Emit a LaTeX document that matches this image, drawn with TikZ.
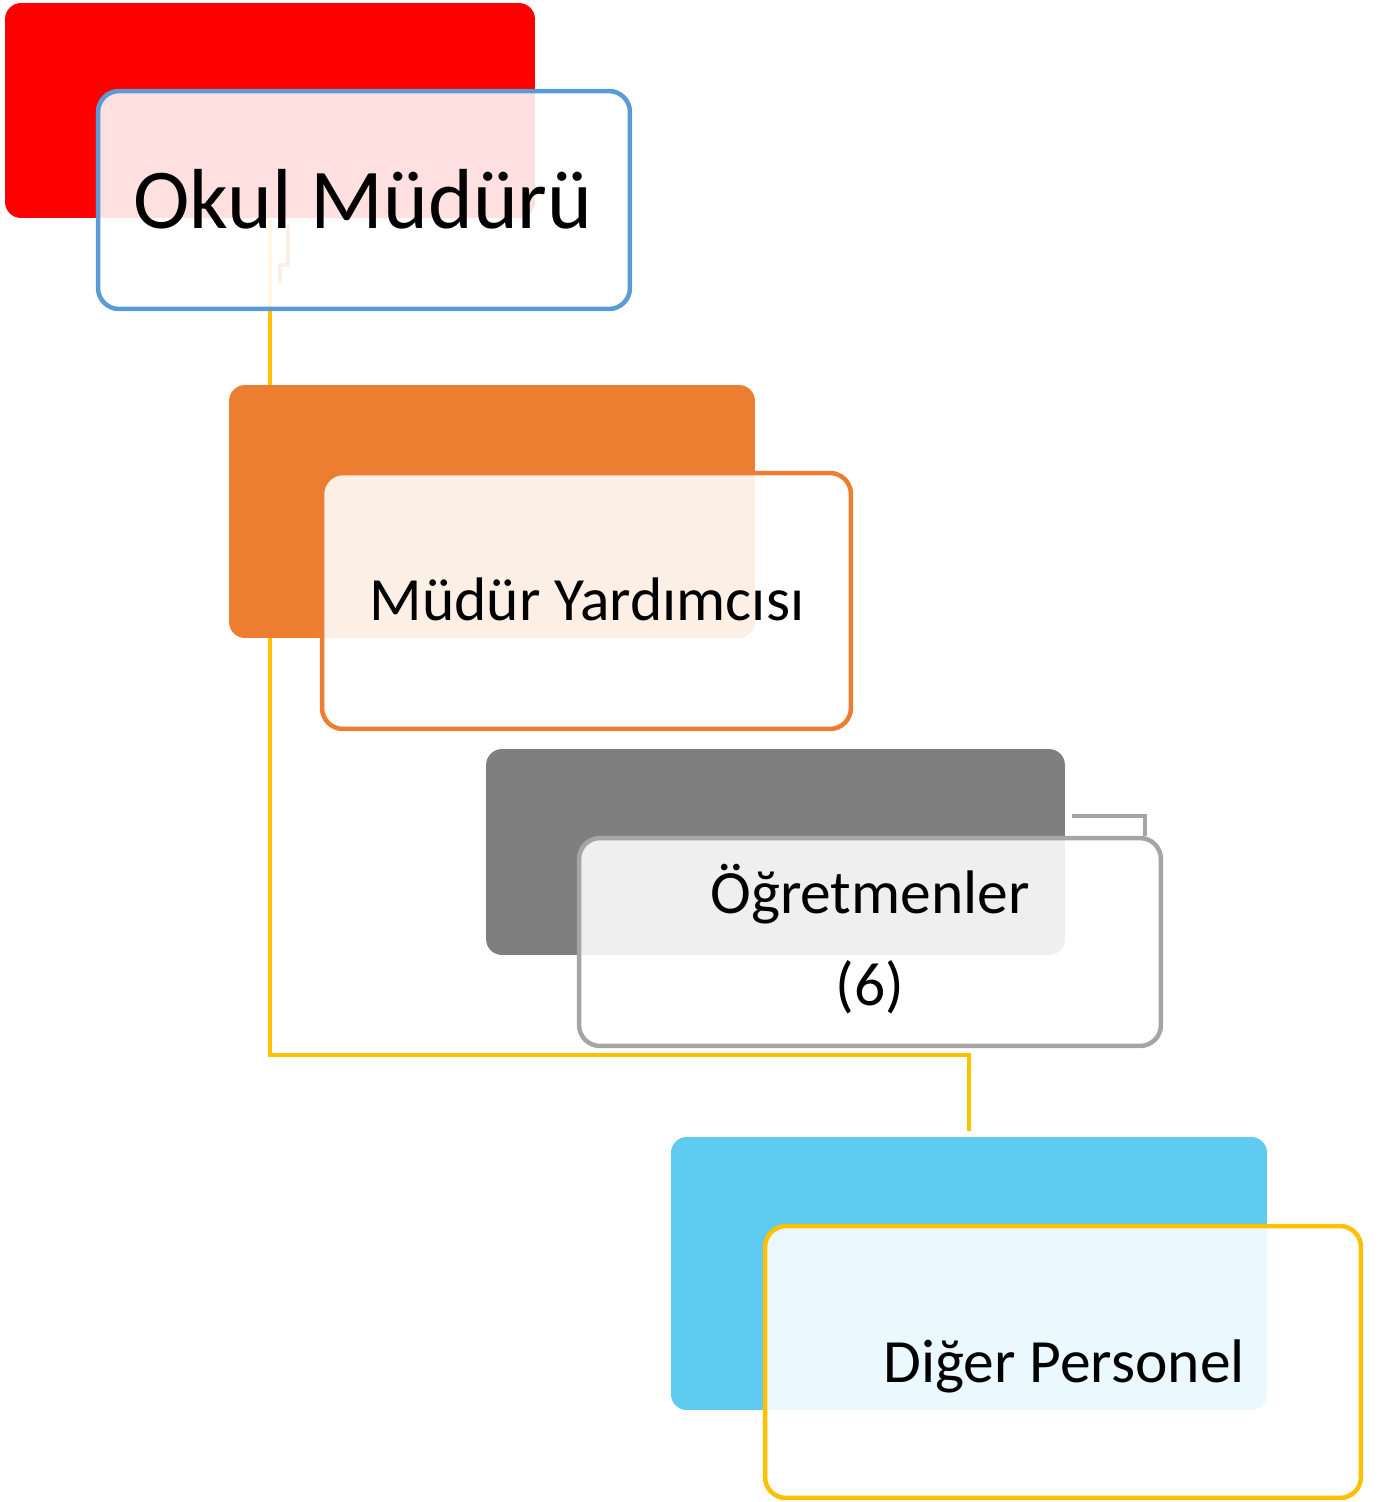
\documentclass[tikz,border=0pt]{standalone}
\usepackage{fontspec}
\setmainfont{Carlito}
\definecolor{cRed}{RGB}{255,0,0}
\definecolor{cOrange}{RGB}{237,125,49}
\definecolor{cGray}{RGB}{127,127,127}
\definecolor{cGrayLine}{RGB}{165,165,165}
\definecolor{cSky}{RGB}{95,203,241}
\definecolor{cBlueLine}{RGB}{91,155,213}
\definecolor{cYellow}{RGB}{255,192,0}
\begin{document}
\begin{tikzpicture}[x=0.02cm,y=-0.02cm,
  backbox/.style={rectangle, draw=none, rounded corners=0.32cm, inner sep=0pt},
  frontbox/.style={rectangle, rounded corners=0.42cm, inner sep=0pt, line width=0.09cm, fill=white, fill opacity=0.88},
  conn/.style={line width=0.08cm},
  big/.style={font=\fontsize{48.5}{56}\selectfont, inner sep=0pt, anchor=base},
  lab/.style={font=\fontsize{35}{40}\selectfont, inner sep=0pt, anchor=base}]
\useasboundingbox (0,0) rectangle (1381,1502);
% connectors (behind everything)
\coordinate (elbow) at (0,1055);
\coordinate (ostart) at (288,225);
\coordinate (oend) at (280,283);
\coordinate (gstart) at (1072,816);
\coordinate (gend) at (1145,836);
\node[backbox, fill=cRed, minimum width=10.6cm, minimum height=4.3cm] (red) at (270,110.5) {};
\node[backbox, fill=cSky, minimum width=11.92cm, minimum height=5.46cm] (skyback) at (969,1273.5) {};
\draw[conn, cYellow] ([yshift=-1pt]red.south) -- (red.south |- elbow) -| ([yshift=3pt]skyback.north);
\draw[conn, cOrange] (ostart) -- (288,265) -- (280,265) -- (oend);
\draw[conn, cGrayLine] (gstart) -| (gend);
% back boxes
\node[backbox, fill=cOrange, minimum width=10.52cm, minimum height=5.06cm] (orangeback) at (492,511.5) {};
\node[backbox, fill=cGray, minimum width=11.58cm, minimum height=4.12cm] (grayback) at (775.5,852) {};
\node[backbox, fill=cSky, minimum width=11.92cm, minimum height=5.46cm] at (969,1273.5) {};
% front boxes
\node[frontbox, draw=cBlueLine, minimum width=10.64cm, minimum height=4.36cm] (bluefront) at (364,200) {};
\node[frontbox, draw=cOrange, minimum width=10.58cm, minimum height=5.12cm] (orangefront) at (586.5,601) {};
\node[frontbox, draw=cGrayLine, minimum width=11.64cm, minimum height=4.16cm] (grayfront) at (870,942) {};
\node[frontbox, draw=cYellow, minimum width=11.92cm, minimum height=5.44cm] (yellowfront) at (1063,1362) {};
% texts
\node[big] (t1) at (363,228) {Okul Müdürü};
\node[lab] (t2) at (587,620) {Müdür Yardımcısı};
\node[lab] (t3) at (870,913) {Öğretmenler};
\node[lab] (t4) at (870,1005) {(6)};
\node[lab] (t5) at (1064,1382) {Diğer Personel};
\end{tikzpicture}
\end{document}
